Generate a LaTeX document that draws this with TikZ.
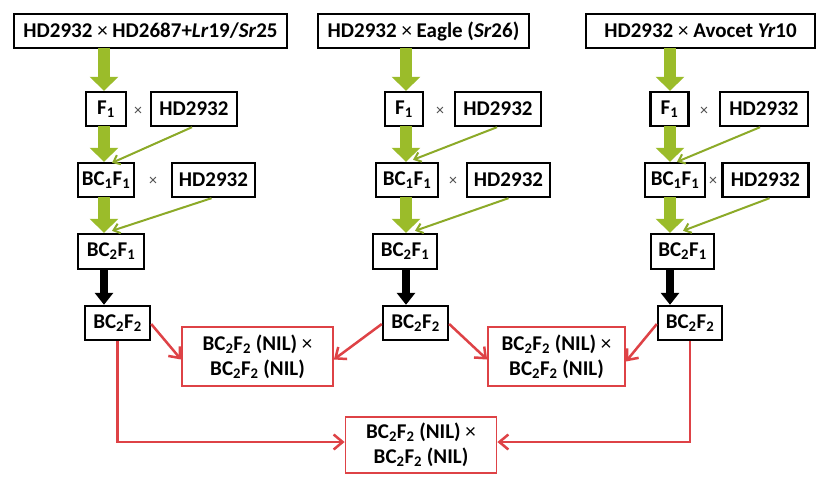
\documentclass[tikz,border=0pt]{standalone}
\usepackage{fontspec}
\setmainfont{Carlito}
\usetikzlibrary{arrows.meta,calc}
\definecolor{grn}{RGB}{155,188,42}
\definecolor{grnline}{RGB}{140,170,40}
\definecolor{rd}{RGB}{222,66,70}
\newcommand{\sbs}[1]{\textsubscript{#1}}
\newcommand{\tms}{{\mdseries ×}}
\begin{document}
\begin{tikzpicture}[x=1pt,y=-1pt,
  box/.style={draw=black,line width=2.4pt,inner sep=0pt,minimum height=34pt,
    font=\fontsize{21}{25}\selectfont\bfseries},
  redbox/.style={draw=rd,line width=1.8pt,inner sep=0pt,align=center,
    font=\fontsize{21}{25}\selectfont\bfseries},
  crosslbl/.style={inner sep=0pt,text=black!70,font=\fontsize{16}{16}\selectfont},
  bigarrow/.style={draw=grn,line width=12pt,-{Triangle[width=28pt,length=14pt]}},
  blkarrow/.style={draw=black,line width=8pt,-{Triangle[width=18pt,length=12pt]}},
  thinarrow/.style={draw=grnline,line width=2pt,-{Straight Barb[length=6pt,width=10pt,line width=2pt]}},
  redarrow/.style={draw=rd,line width=2.5pt,-{Straight Barb[length=9pt,width=15pt,line width=2.5pt]}},
  redline/.style={draw=rd,line width=2.5pt,-{Straight Barb[length=9pt,width=15pt,line width=2.5pt]}}
]
\fill[white] (0,0) rectangle (821,477);
\useasboundingbox (0,0) rectangle (821,477);

% column axes
\coordinate (ca) at (104,0);
\coordinate (cb) at (406,0);
\coordinate (cc) at (670,0);

% ---------- left column ----------
\node[box,minimum width=273pt] (topa) at (150.5,31) {HD2932 \tms{} HD2687+\textit{Lr}19/\textit{Sr}25};
\node[box,minimum width=40pt] (f1a) at (106,109) {F\sbs{1}};
\node[crosslbl] (xa1) at (138,111) {×};
\node[box,minimum width=86pt] (hda1) at (194,109) {HD2932};
\node[box,minimum width=56pt] (bc1a) at (106,180) {BC\sbs{1}F\sbs{1}};
\node[crosslbl] (xa2) at (153,181) {×};
\node[box,minimum width=83pt] (hda2) at (213.5,180) {HD2932};
\node[box,minimum width=66pt,minimum height=35pt] (bc2a) at (111,251.5) {BC\sbs{2}F\sbs{1}};
\node[box,minimum width=65pt] (bc3a) at (117.5,323) {BC\sbs{2}F\sbs{2}};

% ---------- middle column ----------
\node[box,minimum width=211pt] (topb) at (423.5,31) {HD2932 \tms{} Eagle (\textit{Sr}26)};
\node[box,minimum width=38pt] (f1b) at (404,109) {F\sbs{1}};
\node[crosslbl] (xb1) at (440,111) {×};
\node[box,minimum width=86pt] (hdb1) at (498,109) {HD2932};
\node[box,minimum width=62pt] (bc1b) at (407,180) {BC\sbs{1}F\sbs{1}};
\node[crosslbl] (xb2) at (453,181) {×};
\node[box,minimum width=83pt] (hdb2) at (508.5,180) {HD2932};
\node[box,minimum width=64pt,minimum height=35pt] (bc2b) at (405,251.5) {BC\sbs{2}F\sbs{1}};
\node[box,minimum width=65pt] (bc3b) at (415.5,323) {BC\sbs{2}F\sbs{2}};

% ---------- right column ----------
\node[box,minimum width=229pt] (topc) at (700.5,31) {HD2932 \tms{} Avocet \textit{Yr}10};
\node[box,minimum width=38pt] (f1c) at (669.5,109) {F\sbs{1}};
\node[crosslbl] (xc1) at (704,111) {×};
\node[box,minimum width=88pt] (hdc1) at (764,109) {HD2932};
\node[box,minimum width=60pt] (bc1c) at (675,180) {BC\sbs{1}F\sbs{1}};
\node[crosslbl] (xc2) at (713,181) {×};
\node[box,minimum width=86pt] (hdc2) at (765.5,180) {HD2932};
\node[box,minimum width=63pt,minimum height=35pt] (bc2c) at (682.5,251.5) {BC\sbs{2}F\sbs{1}};
\node[box,minimum width=64pt] (bc3c) at (690,323) {BC\sbs{2}F\sbs{2}};

% ---------- red boxes ----------
\node[redbox,minimum width=151pt,minimum height=59pt] (redl) at (257.5,356.5) {BC\sbs{2}F\sbs{2} (NIL) \tms\\BC\sbs{2}F\sbs{2} (NIL)};
\node[redbox,minimum width=137pt,minimum height=59pt] (redm) at (556.5,356.5) {BC\sbs{2}F\sbs{2} (NIL) \tms\\BC\sbs{2}F\sbs{2} (NIL)};
\node[redbox,minimum width=151pt,minimum height=56pt] (redb) at (421,445) {BC\sbs{2}F\sbs{2} (NIL) \tms\\BC\sbs{2}F\sbs{2} (NIL)};

% ---------- thick arrows ----------
\foreach \c/\a/\b/\cc/\d in {a/topa/f1a/bc1a/bc2a, b/topb/f1b/bc1b/bc2b, c/topc/f1c/bc1c/bc2c}{
  \draw[bigarrow] ([yshift=1pt]\a.south -| c\c) -- (\b.north -| c\c);
  \draw[bigarrow] ([yshift=1pt]\b.south -| c\c) -- (\cc.north -| c\c);
  \draw[bigarrow] ([yshift=1pt]\cc.south -| c\c) -- (\d.north -| c\c);
}
\draw[blkarrow] (bc2a.south -| ca) -- (bc3a.north -| ca);
\draw[blkarrow] (bc2b.south -| cb) -- (bc3b.north -| cb);
\draw[blkarrow] (bc2c.south -| cc) -- (bc3c.north -| cc);

% ---------- thin backcross arrows ----------
\draw[thinarrow] ([xshift=-2pt]hda1.south) -- ($(bc1a.north -| ca)+(8,1)$);
\draw[thinarrow] ([xshift=-2pt]hda2.south) -- ($(bc2a.north -| ca)+(8,-2)$);
\draw[thinarrow] ([xshift=-1pt]hdb1.south) -- ($(bc1b.north -| cb)+(7,-2)$);
\draw[thinarrow] (hdb2.south) -- ($(bc2b.north -| cb)+(9,-2)$);
\draw[thinarrow] ([xshift=-4pt]hdc1.south) -- ($(bc1c.north -| cc)+(7,0)$);
\draw[thinarrow] ([xshift=4pt]hdc2.south) -- ($(bc2c.north -| cc)+(13,-2)$);

% ---------- red crossing arrows ----------
\draw[redarrow] ([yshift=-1pt]bc3a.east) -- ([yshift=-3pt]redl.west);
\draw[redarrow] ([yshift=-1pt]bc3b.west) -- ([yshift=-3pt]redl.east);
\draw[redarrow] ([yshift=-1pt]bc3b.east) -- ([yshift=-3pt]redm.west);
\draw[redarrow] ([yshift=-1pt]bc3c.west) -- ([yshift=-5pt]redm.east);
\draw[redline] (bc3a.south) |- ([yshift=3pt]redb.west);
\draw[redline] (bc3c.south) |- ([yshift=3pt]redb.east);
\end{tikzpicture}
\end{document}
